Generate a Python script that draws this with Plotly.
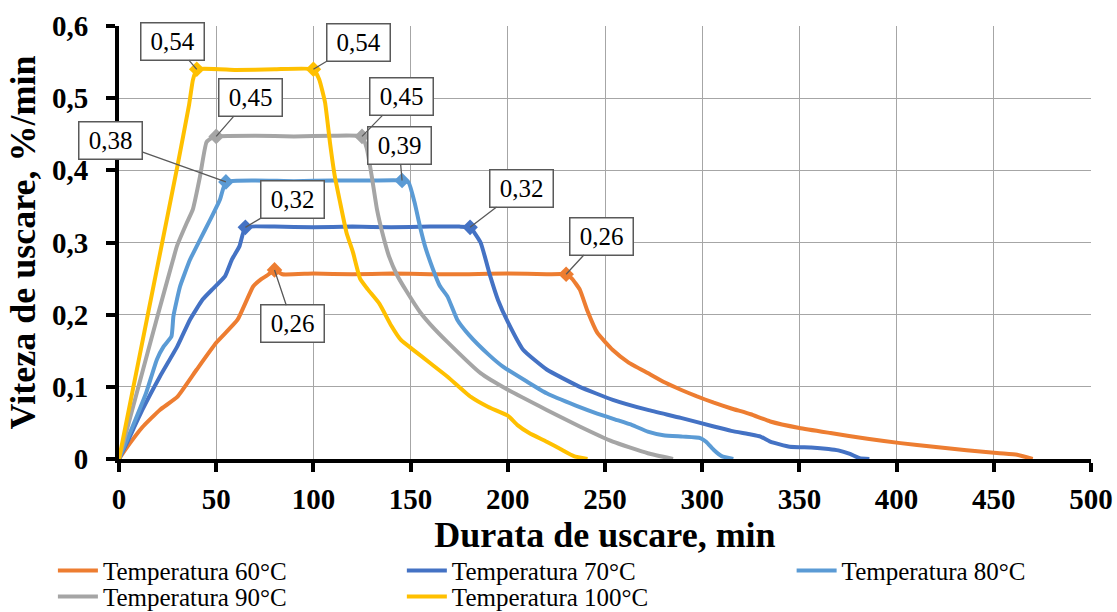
import plotly.graph_objects as go

# Drying rate (%/min) versus drying time (min) at five air temperatures
t60 = [0, 3, 12, 21, 30, 40, 50, 61, 69, 73, 76, 80, 84, 100, 120, 140, 160, 180, 200, 220,
       230, 233, 237, 241, 246, 254, 262, 272, 280, 289, 297, 306, 315, 325, 335, 350, 366,
       385, 402, 419, 436, 453, 462, 470]
v60 = [0, 0.012, 0.044, 0.068, 0.086, 0.124, 0.161, 0.193, 0.239, 0.249, 0.254, 0.262, 0.256,
       0.257, 0.256, 0.257, 0.256, 0.256, 0.257, 0.256, 0.256, 0.25, 0.235, 0.205, 0.175,
       0.151, 0.134, 0.119, 0.107, 0.096, 0.087, 0.078, 0.07, 0.062, 0.052, 0.043, 0.036,
       0.028, 0.022, 0.017, 0.012, 0.008, 0.006, 0]

t70 = [0, 4, 12, 21, 30, 36.5, 43, 48, 54.5, 58, 62, 65, 80, 100, 120, 140, 160, 175, 180.6,
       186, 191, 195, 200, 208, 220, 237, 254, 272, 289, 306, 315, 325, 330, 335, 345, 356,
       365, 370, 376, 381, 386]
v70 = [0, 0.022, 0.068, 0.114, 0.156, 0.193, 0.221, 0.235, 0.253, 0.276, 0.295, 0.321, 0.322,
       0.321, 0.322, 0.321, 0.322, 0.322, 0.321, 0.3, 0.253, 0.22, 0.19, 0.151, 0.124, 0.1,
       0.082, 0.068, 0.057, 0.045, 0.039, 0.034, 0.031, 0.024, 0.017, 0.016, 0.014, 0.012,
       0.007, 0.001, 0]

t80 = [0, 7, 14, 19.5, 23, 27, 28, 31.4, 36.5, 41.7, 47, 52, 55, 70, 90, 110, 130, 145.6, 149,
       152, 155, 157.4, 161.5, 165, 169, 174, 180, 190, 197.5, 210, 220, 235, 246, 255, 264,
       272, 280, 290, 299, 302, 306, 310, 316]
v80 = [0, 0.045, 0.092, 0.138, 0.156, 0.17, 0.198, 0.239, 0.276, 0.304, 0.332, 0.36, 0.384,
       0.386, 0.385, 0.386, 0.386, 0.386, 0.383, 0.356, 0.32, 0.295, 0.263, 0.24, 0.225, 0.193,
       0.172, 0.145, 0.128, 0.107, 0.091, 0.074, 0.063, 0.055, 0.047, 0.038, 0.033, 0.031,
       0.029, 0.024, 0.0125, 0.004, 0]

t90 = [0, 10, 20, 27.8, 29.8, 35, 38, 41.7, 45, 48, 50, 70, 90, 110, 125, 127.5, 130, 132.7,
       136, 139, 143, 148, 155, 160, 169, 186, 200, 220, 237, 254, 272, 285]
v90 = [0, 0.1, 0.2, 0.276, 0.295, 0.328, 0.346, 0.392, 0.439, 0.445, 0.447, 0.448, 0.447,
       0.448, 0.447, 0.43, 0.392, 0.346, 0.308, 0.28, 0.255, 0.232, 0.203, 0.187, 0.162,
       0.119, 0.096, 0.068, 0.045, 0.024, 0.008, 0]

t100 = [0, 10, 20, 30, 36, 38, 40, 60, 80, 100, 103, 106, 108.5, 111, 113.7, 117, 120.4, 124,
        128, 134, 140, 145, 151, 160, 169, 181, 190, 200, 205, 211, 220, 228, 234, 241]
v100 = [0, 0.135, 0.27, 0.405, 0.49, 0.525, 0.54, 0.539, 0.54, 0.54, 0.526, 0.494, 0.439,
        0.392, 0.356, 0.314, 0.286, 0.25, 0.235, 0.215, 0.185, 0.165, 0.152, 0.133, 0.114,
        0.086, 0.072, 0.06, 0.047, 0.036, 0.024, 0.0125, 0.004, 0]

names = ["Temperatura 60°C", "Temperatura 70°C", "Temperatura 80°C",
         "Temperatura 90°C", "Temperatura 100°C"]

# indices of the labelled points (start and end of the constant-rate period)
peaks60 = [11, 20]
peaks70 = [11, 18]
peaks80 = [12, 17]
peaks90 = [10, 14]
peaks100 = [6, 9]

FONT = "Liberation Serif, Times New Roman, serif"
colors = ["#ED7D31", "#4472C4", "#5B9BD5", "#A5A5A5", "#FFC000"]
# callout box offsets (px) from each labelled point
offsets = [[(18, 54), (35, -38)],
           [(47, -28), (51, -39)],
           [(-115, -41), (-3, -35)],
           [(34, -39), (39, -40)],
           [(-24, -28), (45, -27)]]

# one single-entry legend per series, laid out as three columns by two rows
legend_ids = ["legend", "legend2", "legend3", "legend4", "legend5"]
col_x = [-0.068, 0.291, 0.692]
row_y = [-0.205, -0.265]
legend_pos = [(col_x[0], row_y[0]), (col_x[1], row_y[0]), (col_x[2], row_y[0]),
              (col_x[0], row_y[1]), (col_x[1], row_y[1])]

series = [(t60, v60, peaks60), (t70, v70, peaks70), (t80, v80, peaks80),
          (t90, v90, peaks90), (t100, v100, peaks100)]

fig = go.Figure()
annotations = []
for k, (t, v, peaks) in enumerate(series):
    fig.add_trace(go.Scatter(x=t, y=v, mode="lines", name=names[k], legend=legend_ids[k],
                             line=dict(color=colors[k], width=4, shape="spline", smoothing=0.4)))
    fig.add_trace(go.Scatter(x=[t[i] for i in peaks], y=[v[i] for i in peaks], mode="markers",
                             showlegend=False, hoverinfo="skip",
                             marker=dict(symbol="diamond", size=12, color=colors[k])))
    for j, i in enumerate(peaks):
        ax, ay = offsets[k][j]
        annotations.append(dict(
            x=t[i], y=v[i], xref="x", yref="y",
            text=f"{v[i]:.2f}".replace(".", ","),
            showarrow=True, arrowhead=0, arrowwidth=1.3, arrowcolor="#595959",
            ax=ax, ay=ay, standoff=0,
            bgcolor="white", bordercolor="#595959", borderwidth=1.5,
            width=60, height=34, borderpad=1,
            font=dict(family=FONT, size=25, color="black")))

legend_style = dict(orientation="v", yanchor="top", xanchor="left",
                    font=dict(family=FONT, size=25, color="black"),
                    tracegroupgap=0, itemwidth=40, bgcolor="rgba(0,0,0,0)")
legends = {lid: dict(x=px, y=py, **legend_style)
           for lid, (px, py) in zip(legend_ids, legend_pos)}

fig.update_layout(
    width=1117, height=612,
    margin=dict(l=119, r=26, t=26, b=153, autoexpand=False),
    paper_bgcolor="white", plot_bgcolor="white",
    separators=", ",
    font=dict(family=FONT, color="black"),
    annotations=annotations,
    showlegend=True,
    **legends,
)

fig.update_xaxes(
    range=[0, 500], dtick=50, tick0=0,
    showgrid=True, gridcolor="#A6A6A6", gridwidth=1,
    showline=True, linecolor="black", linewidth=4,
    ticks="outside", ticklen=9, tickwidth=4, tickcolor="black",
    tickfont=dict(family=FONT, size=29, color="black", weight="bold"),
    ticklabelstandoff=2,
    zeroline=False, automargin=False,
    title=dict(text="Durata de uscare, min", standoff=8,
               font=dict(family=FONT, size=36, color="black", weight="bold")),
)
fig.update_yaxes(
    range=[0, 0.6], dtick=0.1, tick0=0,
    showgrid=True, gridcolor="#A6A6A6", gridwidth=1,
    showline=True, linecolor="black", linewidth=4,
    ticks="outside", ticklen=9, tickwidth=4, tickcolor="black",
    tickfont=dict(family=FONT, size=29, color="black", weight="bold"),
    ticklabelstandoff=12,
    zeroline=False, automargin=False,
    title=dict(text="Viteza de uscare, %/min", standoff=6,
               font=dict(family=FONT, size=36, color="black", weight="bold")),
)

fig.write_html("out.html")
